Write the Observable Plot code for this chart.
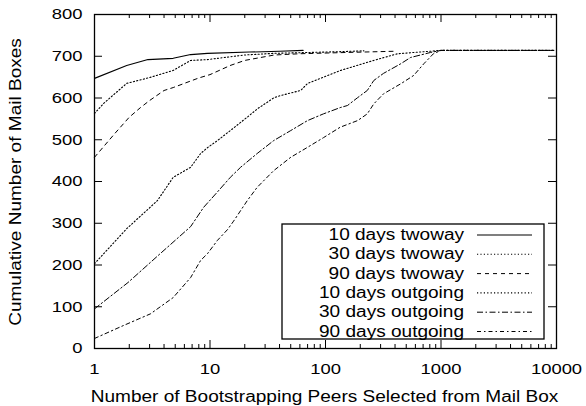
<!DOCTYPE html>
<html><head><meta charset="utf-8">
<script src="https://cdn.jsdelivr.net/npm/d3@7"></script>
<script src="https://cdn.jsdelivr.net/npm/@observablehq/plot@0.6"></script>
<style>body{margin:0;background:#fff}</style>
</head><body><div id="chart"></div>
<script>
// ---- data ----
const seriesNames = ["10 days twoway","30 days twoway","90 days twoway","10 days outgoing","30 days outgoing","90 days outgoing"];

const x10Two = [1,1.9,2.9,4.8,6.8,9.5,22,40,64];
const y10Two = [647,678,692,695,704,707,710,712,714];

const x30Two = [1,1.2,1.9,3,4.8,6.8,9.5,20,36,70,135,215];
const y30Two = [563,587,635,649,666,690,692,703,707,709,711,713];

const x90Two = [1,1.5,2,2.5,3,4,4.8,8,10,15,20,36,60,150,400];
const y90Two = [458,515,554,577,594,618,625,648,656,678,690,703,706,709,712];

const x10Out = [1,1.9,3.5,4.8,6.8,8.3,9.5,11.6,15,21,26,36,41,61,70,135,261,420,1000,9500];
const y10Out = [203,287,354,410,434,467,481,498,522,554,575,601,606,618,635,666,690,706,714,714];

const x30Out = [1,1.95,3.7,6.8,8.8,11.6,15,18.4,25.6,35.6,50,70,96,134,155,190,230,262,318,448,545,810,1000,9500];
const y30Out = [95,158,227,292,338,375,410,434,467,498,522,546,562,577,582,601,618,642,659,682,697,709,714,714];

const x90Out = [1,1.78,3.05,4.8,6.8,8.3,9.5,11.6,14.2,16,21,25.6,35.6,50,70,96,134,190,230,262,318,448,580,710,860,1000,9500];
const y90Out = [24,55,83,122,170,211,227,259,285,305,354,386,426,458,482,505,530,546,562,586,610,634,654,682,706,714,714];

const xTickLabels = [1,10,100,1000,10000];
const xMinorTicks = [2,3,4,5,6,7,8,9,20,30,40,50,60,70,80,90,200,300,400,500,600,700,800,900,2000,3000,4000,5000,6000,7000,8000,9000];
const yTickLabels = [0,100,200,300,400,500,600,700,800];
const xTitle = "Number of Bootstrapping Peers Selected from Mail Box";
const yTitle = "Cumulative Number of Mail Boxes";

// ---- build table ----
const xs = [x10Two,x30Two,x90Two,x10Out,x30Out,x90Out];
const ys = [y10Two,y30Two,y90Two,y10Out,y30Out,y90Out];
const rows = seriesNames.flatMap((s,k) => xs[k].map((x,i) => ({series:s, x, y: ys[k][i]})));

const dashes = [null, "1.2,2.2", "4,4", "1.2,2.2", "6,2.5,1.5,2.5", "4,3,1.5,3"];
const widths = [1.1, 1.1, 1, 1.1, 1, 1];

const lineMarks = seriesNames.map((s,k) => Plot.line(rows.filter(d => d.series === s), {
  x: "x", y: "y", stroke: "#000", strokeWidth: widths[k],
  strokeDasharray: dashes[k] || undefined
}));

const FS = 15.5;
const svg = Plot.plot({
  width: 586, height: 406,
  marginLeft: 94, marginRight: 30, marginTop: 14, marginBottom: 58,
  style: {fontFamily: "'Liberation Sans', Arial, sans-serif", fontSize: FS + "px", background: "#fff"},
  x: {type: "log", domain: [1, 10000], axis: null},
  y: {domain: [0, 800], axis: null},
  marks: [
    ...lineMarks,
    Plot.frame({stroke: "#000", strokeWidth: 1.3}),
    // x major ticks, bottom and top (inward)
    Plot.ruleX(xTickLabels, {x: d => d, y1: 0, y2: 0, insetTop: -8, stroke: "#000"}),
    Plot.ruleX(xTickLabels, {x: d => d, y1: 800, y2: 800, insetBottom: -8, stroke: "#000"}),
    // x minor ticks
    Plot.ruleX(xMinorTicks, {x: d => d, y1: 0, y2: 0, insetTop: -4, stroke: "#000"}),
    Plot.ruleX(xMinorTicks, {x: d => d, y1: 800, y2: 800, insetBottom: -4, stroke: "#000"}),
    // y ticks left and right
    Plot.ruleY(yTickLabels, {y: d => d, x1: 1, x2: 1, insetRight: -8, stroke: "#000"}),
    Plot.ruleY(yTickLabels, {y: d => d, x1: 10000, x2: 10000, insetLeft: -8, stroke: "#000"}),
    // tick labels
    Plot.text(xTickLabels, {x: d => d, y: 0, dy: 21, text: d => String(d), fontSize: FS, fill: "#000"}),
    Plot.text(yTickLabels, {x: 1, y: d => d, dx: -12, textAnchor: "end", text: d => String(d), fontSize: FS, fill: "#000"}),
    // axis titles
    Plot.text([xTitle], {frameAnchor: "bottom", textAnchor: "middle", lineAnchor: "middle", dy: 48, dx: -1, text: d => d, fontSize: 16, fill: "#000"}),
    Plot.text([yTitle], {frameAnchor: "left", textAnchor: "middle", lineAnchor: "middle", rotate: -90, dx: -78.5, dy: 0.5, text: d => d, fontSize: 16, fill: "#000"})
  ]
});

// ---- legend (inside the frame, lower right) ----
const root = d3.select(svg);
const fx = svg.scale("x"), fy = svg.scale("y");
const right = fx.apply(10000), bottom = fy.apply(0);
const boxR = right - 12, boxB = bottom - 9, boxW = 262, boxH = 115;
const lg = root.append("g");
lg.append("rect").attr("x", boxR - boxW).attr("y", boxB - boxH).attr("width", boxW).attr("height", boxH)
  .attr("fill", "#fff").attr("stroke", "#000").attr("stroke-width", 1.3);
seriesNames.forEach((s,k) => {
  const yy = boxB - boxH + 10.5 + k * 19.3;
  lg.append("text").attr("text-anchor", "end").attr("dy", "0.35em")
    .attr("font-size", 16).attr("fill", "#000")
    .attr("transform", `translate(${boxR - 80},${yy})`).text(s);
  lg.append("line").attr("x1", boxR - 67).attr("x2", boxR - 12).attr("y1", yy + 0.5).attr("y2", yy + 0.5)
    .attr("stroke", "#000").attr("stroke-width", widths[k])
    .attr("stroke-dasharray", dashes[k]);
});

// widen all text horizontally (the reference glyphs are stretched)
root.selectAll("text").each(function() {
  const t = this.getAttribute("transform") || "";
  this.setAttribute("transform", t + " scale(1.19,1)");
});

document.getElementById("chart").appendChild(svg);
</script>
</body></html>
